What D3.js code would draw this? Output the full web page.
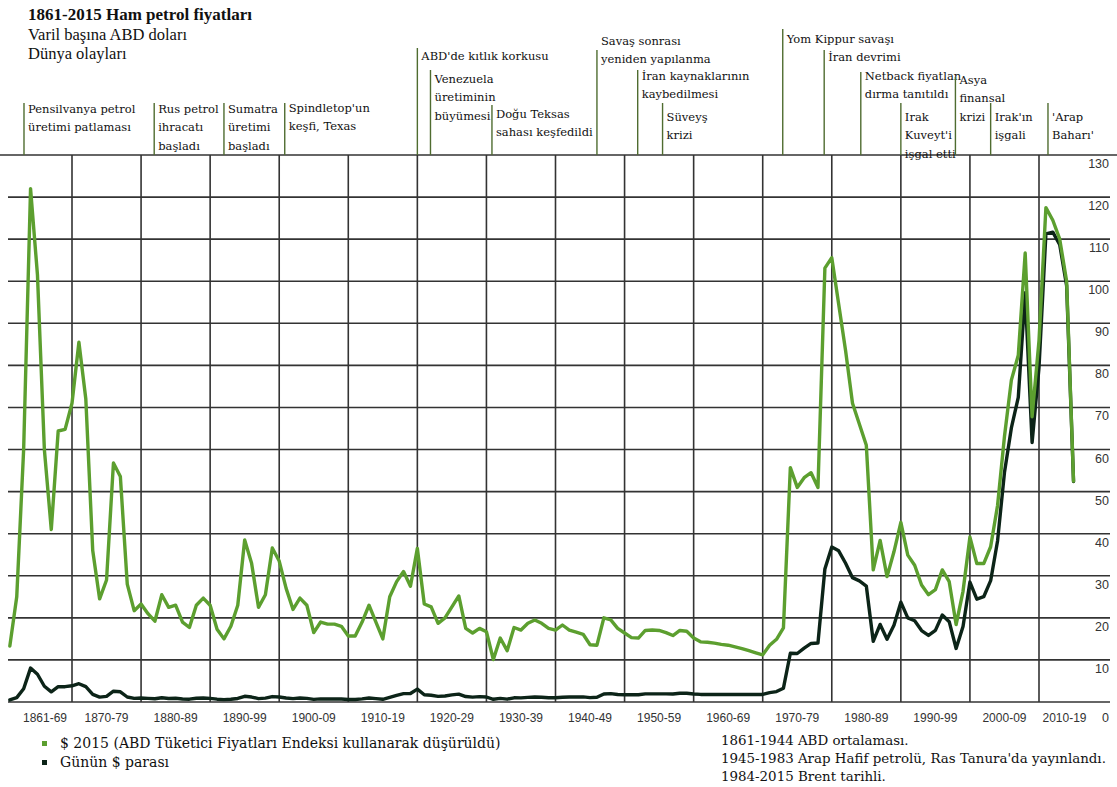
<!DOCTYPE html>
<html><head><meta charset="utf-8">
<script src="https://cdn.jsdelivr.net/npm/d3@7"></script>
<style>body{margin:0;background:#fff;} svg{display:block;}</style>
</head><body><svg id="c" width="1117" height="787"></svg>
<script>
// ---------------- DATA ----------------
const years = d3.range(1861, 2016);
const price2015 = [
 13.3, 25, 60, 122, 101.5, 60, 41, 64.4, 64.8,
 71, 85.5, 72, 36, 24.5, 29, 56.8, 53.6, 28, 21.7,
 23.3, 21, 19.2, 25.5, 22.5, 23, 19, 17.7, 23, 24.7,
 23, 17.3, 15, 18, 23, 38.5, 33, 22.5, 25.5, 36.6,
 33.5, 27, 22, 24.7, 23, 16.5, 19, 18.5, 18.5, 18,
 15.7, 15.7, 19, 23, 19, 15, 25, 28.6, 31, 27.5,
 36.5, 23.3, 22.6, 18.7, 20, 22.6, 25.2, 17.5, 16.4, 17.5,
 16.7, 10.1, 15.2, 12.2, 17.7, 17.1, 18.7, 19.5, 18.7, 17.5,
 17.1, 18.3, 17.1, 16.6, 16.1, 13.6, 13.5, 20, 19.5, 17.5,
 16.4, 15.3, 15.2, 17, 17.1, 17, 16.5, 15.8, 17, 16.8,
 15.2, 14.3, 14.2, 14.0, 13.7, 13.5, 13.1, 12.7, 12.2, 11.7,
 11.2, 13.5, 14.9, 17.6, 55.7, 51, 53.3, 54.5, 51, 103.1,
 105.6, 94.5, 83.5, 71, 66, 61, 31.4, 38.4, 29.8, 35.7,
 42.7, 34.9, 32.5, 27.8, 25.5, 26.7, 31.4, 28.6, 18.4, 26.3,
 39.2, 32.9, 32.9, 36.9, 46.7, 63.1, 76.5, 82.4, 106.7, 67.8,
 85.9, 117.5, 114.5, 110, 100, 52.5
];
const priceNominal = [
 0.49, 1.05, 3.15, 8.06, 6.59, 3.74, 2.41, 3.63, 3.64,
 3.86, 4.34, 3.64, 1.83, 1.17, 1.35, 2.56, 2.42, 1.19, 0.86,
 0.95, 0.86, 0.78, 1.00, 0.84, 0.88, 0.71, 0.67, 0.88, 0.94,
 0.87, 0.67, 0.56, 0.64, 0.84, 1.36, 1.18, 0.79, 0.91, 1.29,
 1.19, 0.96, 0.80, 0.94, 0.86, 0.62, 0.73, 0.72, 0.72, 0.70,
 0.61, 0.61, 0.74, 0.95, 0.81, 0.64, 1.10, 1.56, 1.98, 2.01,
 3.07, 1.73, 1.61, 1.34, 1.43, 1.68, 1.88, 1.30, 1.17, 1.27,
 1.19, 0.65, 0.87, 0.67, 1.00, 0.97, 1.09, 1.18, 1.13, 1.02,
 1.02, 1.14, 1.19, 1.20, 1.21, 1.05, 1.12, 1.90, 1.99, 1.78,
 1.71, 1.71, 1.71, 1.93, 1.93, 1.93, 1.93, 1.90, 2.08, 2.08,
 1.90, 1.80, 1.80, 1.80, 1.80, 1.80, 1.80, 1.80, 1.80, 1.80,
 1.80, 2.24, 2.48, 3.29, 11.58, 11.53, 12.80, 13.92, 14.02, 31.61,
 36.83, 35.93, 32.97, 29.55, 28.78, 27.56, 14.43, 18.44, 14.92, 18.23,
 23.73, 20.00, 19.32, 16.97, 15.82, 17.02, 20.67, 19.09, 12.72, 17.97,
 28.50, 24.44, 25.02, 28.83, 38.27, 54.52, 65.14, 72.39, 97.26, 61.67,
 79.50, 111.26, 111.67, 108.66, 98.95, 52.39
];
const yTicks = [0, 10, 20, 30, 40, 50, 60, 70, 80, 90, 100, 110, 120, 130];
const decadeStarts = [1861, 1870, 1880, 1890, 1900, 1910, 1920, 1930, 1940, 1950, 1960, 1970, 1980, 1990, 2000, 2010];
const decadeLabels = ["1861-69","1870-79","1880-89","1890-99","1900-09","1910-19","1920-29","1930-39","1940-49","1950-59","1960-69","1970-79","1980-89","1990-99","2000-09","2010-19"];
const eventYears = [1863.05, 1881.9, 1892, 1900.8, 1920, 1921.9, 1930.8, 1946, 1951.9, 1955.5, 1972.9, 1978.9, 1984.2, 1990, 1997.9, 2003, 2011.3];
const eventTexts = [
 ["Pensilvanya petrol", "üretimi patlaması"],
 ["Rus petrol", "ihracatı", "başladı"],
 ["Sumatra", "üretimi", "başladı"],
 ["Spindletop'un", "keşfi, Texas"],
 ["ABD'de kıtlık korkusu"],
 ["Venezuela", "üretiminin", "büyümesi"],
 ["Doğu Teksas", "sahası keşfedildi"],
 ["Savaş sonrası", "yeniden yapılanma"],
 ["İran kaynaklarının", "kaybedilmesi"],
 ["Süveyş", "krizi"],
 ["Yom Kippur savaşı"],
 ["İran devrimi"],
 ["Netback fiyatlan", "dırma tanıtıldı"],
 ["Irak", "Kuveyt'i", "işgal etti"],
 ["Asya", "finansal", "krizi"],
 ["Irak'ın", "işgali"],
 ["'Arap", "Baharı'"]
];
const titleLines = ["1861-2015 Ham petrol fiyatları", "Varil başına ABD doları", "Dünya olayları"];
const seriesNames = ["$ 2015 (ABD Tüketici Fiyatları Endeksi kullanarak düşürüldü)", "Günün $ parası"];
const notes = ["1861-1944 ABD ortalaması.", "1945-1983 Arap Hafif petrolü, Ras Tanura'da yayınlandı.", "1984-2015 Brent tarihli."];

// ---------------- LAYOUT ----------------
const evLineTop = [103, 103, 103, 103, 48, 70, 105, 50, 70, 103, 29, 50, 72, 103, 77, 103, 103];
const evTextTop = [108, 108, 108, 107, 55, 78, 113, 40, 75, 116, 38, 56, 75, 116, 79, 116, 116];

const GREEN = "#5c9f2f", DARK = "#0c2418", GRID = "#333", EVC = "#4f6c30";
const svg = d3.select("#c");
const x = d3.scaleLinear().domain([1870, 2010]).range([72, 1039]);
const y = d3.scaleLinear().domain([0, 130]).range([702, 155]);
const plotL = 8, plotR = 1110, labelR = 1090;

svg.append("g").selectAll("line").data(yTicks).join("line")
  .attr("x1", d => d === 130 ? 0 : plotL).attr("x2", d => d === 130 ? 1117 : plotR)
  .attr("y1", d => y(d)).attr("y2", d => y(d))
  .attr("stroke", GRID).attr("stroke-width", 1.6);
svg.append("g").selectAll("line").data(decadeStarts.slice(1)).join("line")
  .attr("x1", d => x(d)).attr("x2", d => x(d))
  .attr("y1", y(130)).attr("y2", y(0))
  .attr("stroke", GRID).attr("stroke-width", 1.6);

svg.append("g").selectAll("text").data(yTicks).join("text")
  .attr("x", 1109).attr("y", d => d === 0 ? 722 : y(d) + 13)
  .attr("text-anchor", "end").attr("font-family", "Liberation Sans, Arial, sans-serif")
  .attr("font-size", 12.5).attr("fill", "#333").text(d => d);
svg.append("g").selectAll("text").data(decadeLabels).join("text")
  .attr("x", (d, i) => {
    const a = i === 0 ? 18 : x(decadeStarts[i]);
    const b = i === decadeStarts.length - 1 ? labelR : x(decadeStarts[i + 1]);
    return (a + b) / 2;
  })
  .attr("y", 722).attr("text-anchor", "middle")
  .attr("font-family", "Liberation Sans, Arial, sans-serif").attr("font-size", 12)
  .attr("fill", "#333").text(d => d);

const line = vals => d3.line().x((d, i) => x(years[i])).y(d => y(d))(vals);
svg.append("path").attr("d", line(priceNominal)).attr("fill", "none")
  .attr("stroke", DARK).attr("stroke-width", 3.4).attr("stroke-linejoin", "round").attr("stroke-linecap", "round");
svg.append("path").attr("d", line(price2015)).attr("fill", "none")
  .attr("stroke", GREEN).attr("stroke-width", 3.4).attr("stroke-linejoin", "round").attr("stroke-linecap", "round");

const ev = svg.append("g");
eventYears.forEach((yr, i) => {
  const ex = x(yr);
  ev.append("line").attr("x1", ex).attr("x2", ex).attr("y1", evLineTop[i]).attr("y2", y(130))
    .attr("stroke", EVC).attr("stroke-width", 1.4);
  eventTexts[i].forEach((t, j) => {
    ev.append("text").attr("x", ex + 4).attr("y", evTextTop[i] + j * 18.5 + 4.5)
      .attr("font-family", "DejaVu Serif, serif").attr("font-size", 11.5)
      .attr("fill", "#111").text(t);
  });
});

svg.append("text").attr("x", 28).attr("y", 20).attr("font-family", "Liberation Serif, serif")
  .attr("font-weight", "bold").attr("font-size", 17).attr("fill", "#111").text(titleLines[0]);
[1, 2].forEach(k => svg.append("text").attr("x", 28).attr("y", 20 + k * 19.5)
  .attr("font-family", "Liberation Serif, serif").attr("font-size", 16.5).attr("fill", "#111").text(titleLines[k]));

[GREEN, DARK].forEach((c, i) => {
  svg.append("rect").attr("x", 42).attr("y", 741 + i * 19).attr("width", 5).attr("height", 5).attr("fill", c);
  svg.append("text").attr("x", 60).attr("y", 748 + i * 19).attr("font-family", "DejaVu Serif, serif")
    .attr("font-size", 14).attr("fill", "#111").text(seriesNames[i]);
});
notes.forEach((t, i) => svg.append("text").attr("x", 721).attr("y", 745 + i * 18)
  .attr("font-family", "DejaVu Serif, serif").attr("font-size", 13.4).attr("fill", "#111").text(t));
</script></body></html>
